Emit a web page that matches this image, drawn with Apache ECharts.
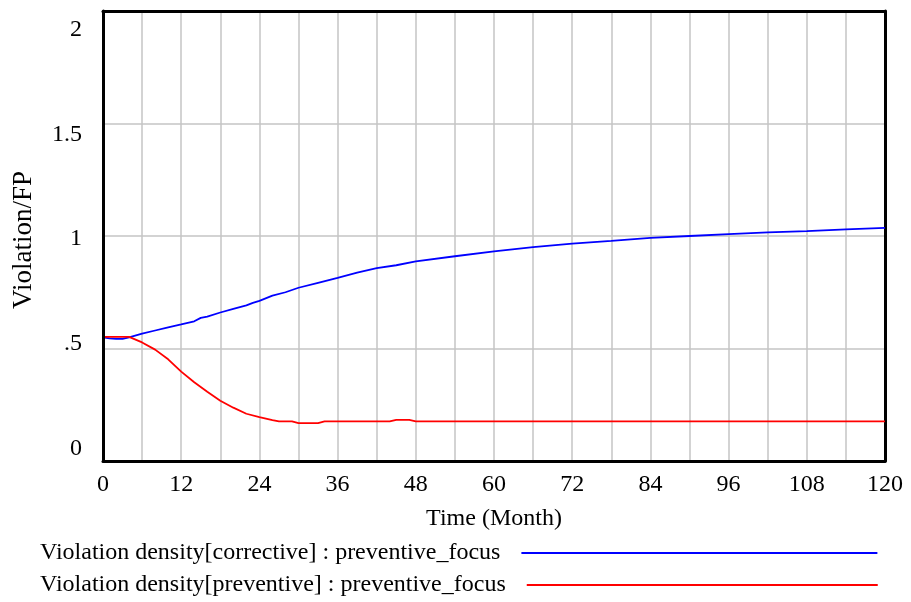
<!DOCTYPE html>
<html>
<head>
<meta charset="utf-8">
<script src="https://cdn.jsdelivr.net/npm/echarts@6/dist/echarts.min.js"></script>
<style>
  html, body { margin: 0; padding: 0; background: #fff; }
  #chart { width: 911px; height: 602px; }
</style>
</head>
<body>
<div id="chart"></div>
<script>
// Simulation output: violation density under the preventive_focus scenario
const correctiveMonths = [0, 1, 2, 3, 4, 6, 8, 10, 12, 14, 15, 16, 18, 20, 22, 23, 24, 26, 28, 30, 33, 36, 39, 42, 45, 48, 54, 60, 66, 72, 78, 84, 90, 96, 102, 108, 114, 120];
const correctiveValues = [0.549, 0.545, 0.543, 0.543, 0.549, 0.566, 0.580, 0.594, 0.607, 0.621, 0.636, 0.642, 0.660, 0.676, 0.692, 0.703, 0.712, 0.735, 0.750, 0.770, 0.792, 0.814, 0.837, 0.857, 0.870, 0.887, 0.910, 0.932, 0.951, 0.966, 0.978, 0.992, 1.000, 1.008, 1.016, 1.022, 1.029, 1.036];

const preventiveMonths = [0, 4, 6, 8, 10, 12, 14, 16, 18, 20, 22, 24, 26, 27, 29, 30, 33, 34, 44, 45, 47, 48, 120];
const preventiveValues = [0.552, 0.552, 0.527, 0.495, 0.452, 0.397, 0.350, 0.308, 0.268, 0.237, 0.210, 0.195, 0.182, 0.176, 0.176, 0.168, 0.168, 0.176, 0.176, 0.183, 0.183, 0.176, 0.176];

const seriesNames = [
  'Violation density[corrective] : preventive_focus',
  'Violation density[preventive] : preventive_focus'
];
const seriesColors = ['#0000ff', '#ff0000'];

const xTickValues = [0, 12, 24, 36, 48, 60, 72, 84, 96, 108, 120];
const yTickValues = [0, 0.5, 1, 1.5, 2];
const yTickLabels = ['0', '.5', '1', '1.5', '2'];

const xTitle = 'Time (Month)';
const yTitle = 'Violation/FP';

const FONT = 'Liberation Serif';
const FS = 24;

const toPairs = (xs, ys) => xs.map((x, i) => [x, ys[i]]);

const chart = echarts.init(document.getElementById('chart'), null, { renderer: 'canvas' });

const borderLine = { show: true, onZero: false, lineStyle: { color: '#000', width: 3 } };
const gridLine = { show: true, showMinLine: false, showMaxLine: false, lineStyle: { color: '#c4c4c4', width: 1.5 } };

// one key row per series: text first, then a long line sample ending near the right frame
const legendRow = (name, top, sampleWidth) => ({
  orient: 'vertical', left: 40, top: top, padding: 0,
  align: 'right',
  itemWidth: sampleWidth, itemHeight: 14,
  itemStyle: { opacity: 0 },
  textStyle: { fontFamily: FONT, fontSize: FS, color: '#000', padding: [0, 16, 4, 0] },
  data: [name]
});

const option = {
  animation: false,
  backgroundColor: '#fff',
  grid: { left: 103, right: 26, top: 11, bottom: 141 },
  xAxis: [
    {
      type: 'value', position: 'bottom', min: 0, max: 120, interval: 6,
      axisLine: borderLine,
      axisTick: { show: false },
      splitLine: gridLine,
      axisLabel: {
        customValues: xTickValues,
        fontFamily: FONT, fontSize: FS, color: '#000', margin: 12
      },
      name: xTitle, nameLocation: 'middle', nameGap: 46,
      nameTextStyle: { fontFamily: FONT, fontSize: FS, color: '#000' }
    },
    {
      // top frame edge
      type: 'value', position: 'top', min: 0, max: 120, z: 5,
      axisLine: borderLine, axisTick: { show: false },
      axisLabel: { show: false }, splitLine: { show: false }
    }
  ],
  yAxis: [
    {
      // value scale of the plotted series, with the horizontal grid and the right frame edge
      type: 'value', position: 'right', min: 0, max: 2, interval: 0.5,
      axisLine: borderLine, axisTick: { show: false },
      axisLabel: { show: false },
      splitLine: gridLine
    },
    {
      // tick labels spread evenly down the left edge
      type: 'value', position: 'left', min: -0.0602, max: 2.0883, z: 5,
      axisLine: borderLine, axisTick: { show: false },
      splitLine: { show: false },
      axisLabel: {
        customValues: yTickValues,
        formatter: v => yTickLabels[yTickValues.findIndex(t => Math.abs(t - v) < 1e-6)] ?? '',
        fontFamily: FONT, fontSize: FS, color: '#000', margin: 21
      },
      name: yTitle, nameLocation: 'middle', nameGap: 66,
      nameTextStyle: { fontFamily: FONT, fontSize: 27, color: '#000', padding: [0, 8, 0, 0] }
    }
  ],
  legend: [
    legendRow(seriesNames[0], 541, 356),
    legendRow(seriesNames[1], 573, 351)
  ],
  series: [
    {
      name: seriesNames[0], type: 'line', xAxisIndex: 0, yAxisIndex: 0,
      data: toPairs(correctiveMonths, correctiveValues),
      symbol: 'none', lineStyle: { color: seriesColors[0], width: 1.8 },
      itemStyle: { color: seriesColors[0] }
    },
    {
      name: seriesNames[1], type: 'line', xAxisIndex: 0, yAxisIndex: 0,
      data: toPairs(preventiveMonths, preventiveValues),
      symbol: 'none', lineStyle: { color: seriesColors[1], width: 1.8 },
      itemStyle: { color: seriesColors[1] }
    }
  ]
};

chart.setOption(option);
</script>
</body>
</html>
